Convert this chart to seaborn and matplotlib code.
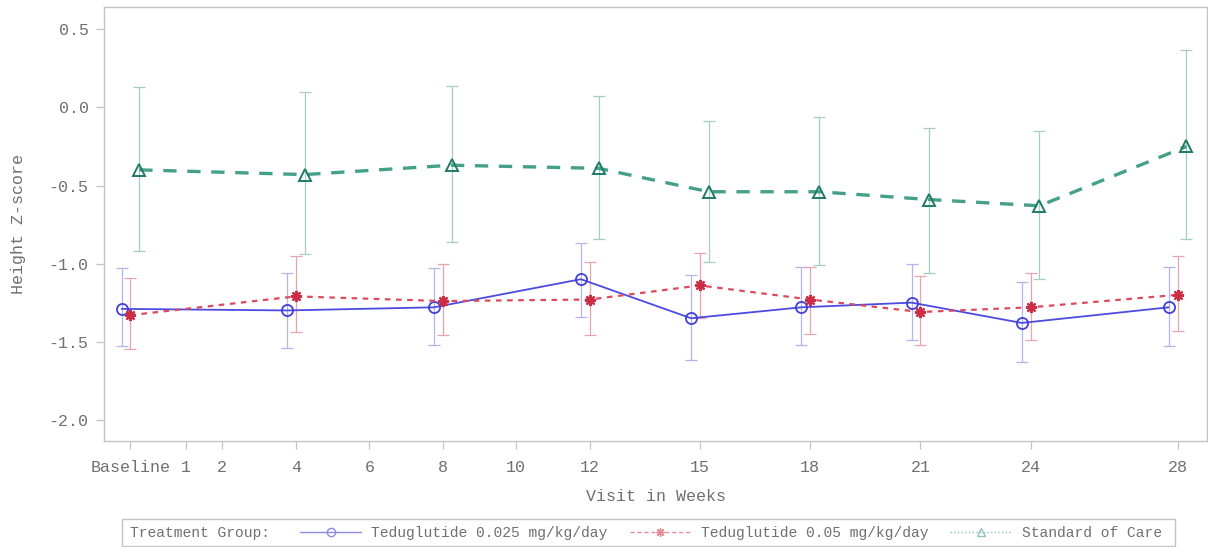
import matplotlib
matplotlib.use('Agg')
import matplotlib.pyplot as plt
import seaborn as sns
import pandas as pd
import numpy as np
from matplotlib.patches import Rectangle
from matplotlib.lines import Line2D

# visit weeks (0 = Baseline) and tick labels
weeks = [0, 4, 8, 12, 15, 18, 21, 24, 28]
tick_weeks = [0, 1, 2, 4, 6, 8, 10, 12, 15, 18, 21, 24, 28]
tick_labels = ['Baseline', '1', '2', '4', '6', '8', '10', '12', '15', '18', '21', '24', '28']

groups = ['Teduglutide 0.025 mg/kg/day', 'Teduglutide 0.05 mg/kg/day', 'Standard of Care']

# mean height z-score with upper/lower bars
low_mean = [-1.29, -1.30, -1.28, -1.10, -1.35, -1.28, -1.25, -1.38, -1.28]
low_upper = [-1.03, -1.06, -1.03, -0.87, -1.07, -1.02, -1.00, -1.12, -1.02]
low_lower = [-1.53, -1.54, -1.52, -1.34, -1.62, -1.52, -1.49, -1.63, -1.53]

high_mean = [-1.33, -1.21, -1.24, -1.23, -1.14, -1.23, -1.31, -1.28, -1.20]
high_upper = [-1.09, -0.95, -1.00, -0.99, -0.93, -1.02, -1.08, -1.06, -0.95]
high_lower = [-1.55, -1.44, -1.46, -1.46, -1.35, -1.45, -1.52, -1.49, -1.43]

soc_mean = [-0.40, -0.43, -0.37, -0.39, -0.54, -0.54, -0.59, -0.63, -0.25]
soc_upper = [0.13, 0.10, 0.14, 0.07, -0.09, -0.06, -0.13, -0.15, 0.37]
soc_lower = [-0.92, -0.94, -0.86, -0.84, -0.99, -1.01, -1.06, -1.10, -0.84]

sns.set_style('ticks')
plt.rcParams['font.family'] = ['Liberation Mono', 'DejaVu Sans Mono']
plt.rcParams['axes.unicode_minus'] = False

txt_col = '#707070'
frame_col = '#c4c4c4'
baseline_pos = -0.5  # baseline sits a bit left of week 0

def xpos(w):
    return np.array([baseline_pos if v == 0 else v for v in w], dtype=float)

styles = {
    groups[0]: dict(color='#4b4be0', edge='#4040d8', bar='#b4b4ec', marker='o', ms=8, lw=1.3,
                    ls='-', shift=-0.24, mew=1.3),
    groups[1]: dict(color='#dc4a5c', edge='#cc2f45', bar='#e6a4ae', marker=(8, 2, 0), ms=8, lw=1.6,
                    ls=(0, (2.5, 2.5)), shift=0.0, mew=1.6),
    groups[2]: dict(color='#45a08a', edge='#1f7a66', bar='#a6cfc4', marker='^', ms=8, lw=2.4,
                    ls=(0, (4.0, 3.2)), shift=0.24, mew=1.4),
}
series = {
    groups[0]: (low_mean, low_upper, low_lower),
    groups[1]: (high_mean, high_upper, high_lower),
    groups[2]: (soc_mean, soc_upper, soc_lower),
}

fig = plt.figure(figsize=(12.08, 5.47), dpi=100)
ax = fig.add_axes([104 / 1208, 1 - 441 / 547, (1207 - 104) / 1208, (441 - 7) / 547])

for g in groups:
    st = styles[g]
    m, up, lo = series[g]
    df = pd.DataFrame({'x': xpos(weeks) + st['shift'], 'mean': m, 'upper': up, 'lower': lo})
    ax.errorbar(df['x'], df['mean'],
                yerr=[df['mean'] - df['lower'], df['upper'] - df['mean']],
                fmt='none', ecolor=st['bar'], elinewidth=0.9, capsize=4, capthick=0.9, zorder=1)
    sns.lineplot(data=df, x='x', y='mean', ax=ax, color=st['color'], marker=st['marker'],
                 markersize=st['ms'], mfc='none', mec=st['edge'], mew=st['mew'],
                 linewidth=st['lw'], linestyle=st['ls'], sort=False, estimator=None,
                 zorder=3)

ax.set_xlim(-1.22, 28.8)
ax.set_ylim(-2.136, 0.643)
ax.set_xticks(xpos(tick_weeks))
ax.set_xticklabels(tick_labels)
ax.set_yticks([0.5, 0.0, -0.5, -1.0, -1.5, -2.0])
ax.set_yticklabels(['0.5', '0.0', '-0.5', '-1.0', '-1.5', '-2.0'])
ax.tick_params(axis='both', colors=frame_col, labelcolor=txt_col, labelsize=12,
               length=6, width=0.9)
ax.tick_params(axis='x', pad=8)
ax.tick_params(axis='y', pad=5)
for s in ax.spines.values():
    s.set_visible(True)
    s.set_color(frame_col)
    s.set_linewidth(1.0)

ax.set_xlabel('Visit in Weeks', fontsize=12, color=txt_col)
ax.set_ylabel('Height Z-score', fontsize=12, color=txt_col)
ax.xaxis.set_label_coords(0.5, -0.11)
ax.yaxis.set_label_coords(-0.071, 0.5)

# legend box along the bottom
fig.patches.append(Rectangle((122 / 1208, 1 - 546 / 547), (1175 - 122) / 1208, (546 - 519) / 547,
                             transform=fig.transFigure, fill=False, ec=frame_col, lw=1.0))
fig.text(130 / 1208, 1 - 533 / 547, 'Treatment Group:', fontsize=10.5, color=txt_col,
         va='center', ha='left')
handles = [
    Line2D([], [], color='#8c8ce8', lw=1.0, ls='-', marker='o', ms=6, mfc='none', mec='#8c8ce8'),
    Line2D([], [], color='#e58c98', lw=1.0, ls=(0, (3, 2)), marker=(8, 2, 0), ms=6, mec='#e58c98'),
    Line2D([], [], color='#8cc8b8', lw=1.0, ls=':', marker='^', ms=6, mfc='none', mec='#8cc8b8'),
]
leg = fig.legend(handles, groups, ncol=3, loc='center left',
                 bbox_to_anchor=(300 / 1208, 1 - 533 / 547), frameon=False, fontsize=10.5,
                 handlelength=4.2, handletextpad=0.7, columnspacing=1.5, borderpad=0,
                 borderaxespad=0)
for t in leg.get_texts():
    t.set_color(txt_col)

fig.savefig('out.png', dpi=100, facecolor='white')
